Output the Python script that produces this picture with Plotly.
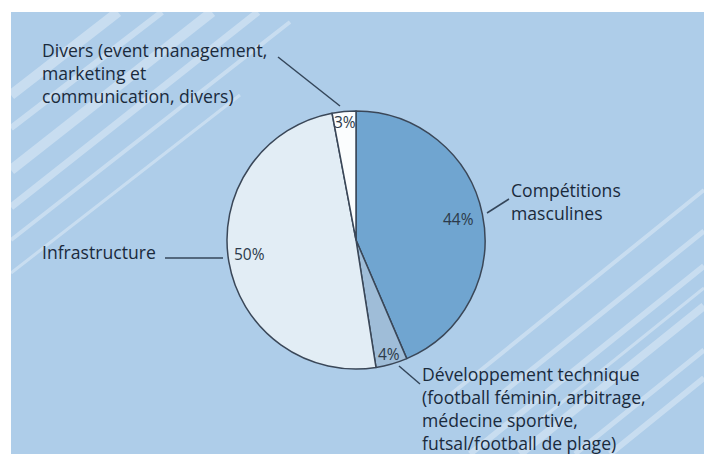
import math
import plotly.graph_objects as go

# ---- data ----
categories = [
    "Compétitions masculines",
    "Développement technique (football féminin, arbitrage, médecine sportive, futsal/football de plage)",
    "Infrastructure",
    "Divers (event management, marketing et communication, divers)",
]
values = [44, 4, 50, 3]
pct_labels = ["44%", "4%", "50%", "3%"]
slice_colors = ["#70a5d0", "#9fbdd8", "#e2edf5", "#fbfdfe"]

label_lines = [
    ["Compétitions", "masculines"],
    ["Développement technique", "(football féminin, arbitrage,", "médecine sportive,", "futsal/football de plage)"],
    ["Infrastructure"],
    ["Divers (event management,", "marketing et", "communication, divers)"],
]

W, H = 704, 454
CX, CY, R = 356, 240, 129


def px(x):
    return x / W


def py(y):
    return 1 - y / H


fig = go.Figure()
fig.add_trace(go.Pie(
    labels=categories,
    values=values,
    sort=False,
    direction="clockwise",
    rotation=0,
    textinfo="none",
    hoverinfo="label+percent",
    marker=dict(colors=slice_colors, line=dict(color="#3a4758", width=1.5)),
    domain=dict(x=[px(CX - R), px(CX + R)], y=[py(CY + R), py(CY - R)]),
    showlegend=False,
))

shapes = []
# blue background panel
shapes.append(dict(type="rect", xref="paper", yref="paper", x0=px(11), x1=1, y0=0, y1=py(12),
                   fillcolor="#aecde9", line=dict(width=0), layer="below"))

# decorative stripes (pixel coords)
stripes = [
    (11, 95, 118, 12, 10), (11, 128, 162, 12, 6), (11, 170, 212, 12, 10),
    (11, 207, 258, 12, 7), (11, 240, 290, 22, 4), (11, 273, 240, 95, 3),
    (470, 454, 704, 266, 6), (520, 454, 704, 306, 8), (575, 454, 704, 350, 5),
    (450, 395, 704, 190, 4), (500, 395, 704, 231, 5), (540, 420, 704, 288, 3),
    (610, 454, 704, 378, 6),
]
for x0, y0, x1, y1, w in stripes:
    shapes.append(dict(type="line", xref="paper", yref="paper", x0=px(x0), y0=py(y0), x1=px(x1), y1=py(y1),
                       line=dict(color="rgba(255,255,255,0.33)", width=w), layer="below"))

# leader lines
leaders = [
    (487, 213, 509, 199),
    (399, 366, 420, 384),
    (165, 258, 223, 258),
    (278, 57, 340, 106),
]
for x0, y0, x1, y1 in leaders:
    shapes.append(dict(type="line", xref="paper", yref="paper", x0=px(x0), y0=py(y0), x1=px(x1), y1=py(y1),
                       line=dict(color="#34465a", width=1.5)))

annotations = []
# percent labels near slice mid-angles
total = sum(values)
r_frac = [0.81, 0.92, 0.83, 0.92]
ang_off = [0, 0, 2.5, 0]
cum = 0
for v, t, rf, ao in zip(values, pct_labels, r_frac, ang_off):
    mid = (cum + v / 2) / total * 2 * math.pi + math.radians(ao)
    cum += v
    x = CX + rf * R * math.sin(mid)
    y = CY - rf * R * math.cos(mid)
    annotations.append(dict(x=px(x), y=py(y), xref="paper", yref="paper", text=t, showarrow=False,
                            xanchor="center", yanchor="middle",
                            font=dict(family="Open Sans", size=15.5, color="#2c3a4a")))

# outside labels: (left x, first baseline)
label_pos = [(510, 197), (421, 381), (41, 259), (41, 57)]
FS = 17.6
for (x, yb), lines in zip(label_pos, label_lines):
    n = len(lines)
    center = yb + (n - 1) * 1.3 * FS / 2 - 0.388 * FS
    annotations.append(dict(x=px(x), y=py(center), xref="paper", yref="paper", text="<br>".join(lines),
                            showarrow=False, xanchor="left", yanchor="middle", align="left",
                            borderpad=0,
                            font=dict(family="Open Sans", size=FS, color="#1a2a3c")))

fig.update_layout(
    width=W, height=H,
    margin=dict(l=0, r=0, t=0, b=0),
    paper_bgcolor="white",
    shapes=shapes,
    annotations=annotations,
)

fig.write_html("out.html", config={"displayModeBar": False},
               post_script="document.body.style.margin='0';document.body.style.padding='0';")
